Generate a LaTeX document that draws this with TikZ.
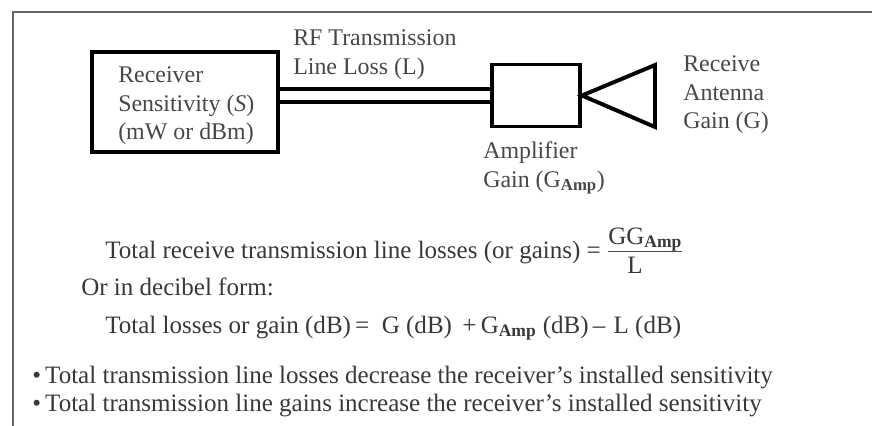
\documentclass[tikz,border=0pt]{standalone}
\usepackage{fontspec}
\setmainfont{Liberation Serif}

\tikzset{
    boxthick/.style={shape=rectangle,draw=black,line width=2.8pt,inner sep=0pt},
    lbl/.style={anchor=west,inner sep=0pt,align=left,text=black!72,font=\fontsize{17}{20.2}\selectfont},
    eqn/.style={anchor=base west,inner sep=0pt,text=black!78,font=\fontsize{17.8}{20.2}\selectfont}
}

\begin{document}
\begin{tikzpicture}[x=0.025cm,y=-0.025cm]
            \useasboundingbox (0,0) rectangle (872,426);

            % frame
            \coordinate (fa) at (13,426);
            \coordinate (fb) at (13,12);
            \coordinate (fc) at (872,12);
            \draw[black!60,line width=0.9pt] (fa) -- (fb) -- (fc);

            \node[boxthick,minimum width=4.66cm,minimum height=2.5cm] (rx) at (185,102) {};
            \node[boxthick,minimum width=2.2cm,minimum height=1.55cm] (amp) at (536,95.5) {};

            \coordinate (ap) at (amp.east);
            \coordinate (at) at (655,65);
            \coordinate (ab) at (655,127);

            \draw [double,line width=2.8pt,double distance=6.4pt] (rx.east |- amp.west) -- (amp.west);
            \draw [line width=2.8pt,line join=miter] (ap) -- (at) -- (ab) -- cycle;

            \node[lbl] (rxtext) at (118,106) {Receiver\\Sensitivity (\textit{S})\\(mW or dBm)};
            \node[lbl] (rftext) at (293,54.5) {RF Transmission\\Line Loss (L)};
            \node[lbl] (amptext) at (483,168) {Amplifier\\Gain (G\textsubscript{\textbf{Amp}})};
            \node[lbl] (anttext) at (683,95) {Receive\\Antenna\\Gain (G)};

            \node[eqn] (eqa) at (105,258) {Total receive transmission line losses (or gains) =};
            \node[eqn] (gg) at (608,244) {GG\textsubscript{\textbf{Amp}}};
            \node[eqn] (den) at (627,273) {L};
            \path [draw=black!70,line width=0.8pt] (gg.south west) coordinate (ba) (gg.south east) coordinate (bb) (ba) edge node {} (bb);

            \node[eqn] (eqb) at (81,295) {Or in decibel form:};
            \node[eqn] (eqc) at (105,333) {Total losses or gain (dB)\,= \ G (dB) \,+\,G\textsubscript{\textbf{Amp}} (dB)\,--\,\,L (dB)};

            \node[eqn] (bla) at (32,383) {\textbullet\,Total transmission line losses decrease the receiver's installed sensitivity};
            \node[eqn] (blb) at (32,411) {\textbullet\,Total transmission line gains increase the receiver's installed sensitivity};
        \end{tikzpicture}
\end{document}
